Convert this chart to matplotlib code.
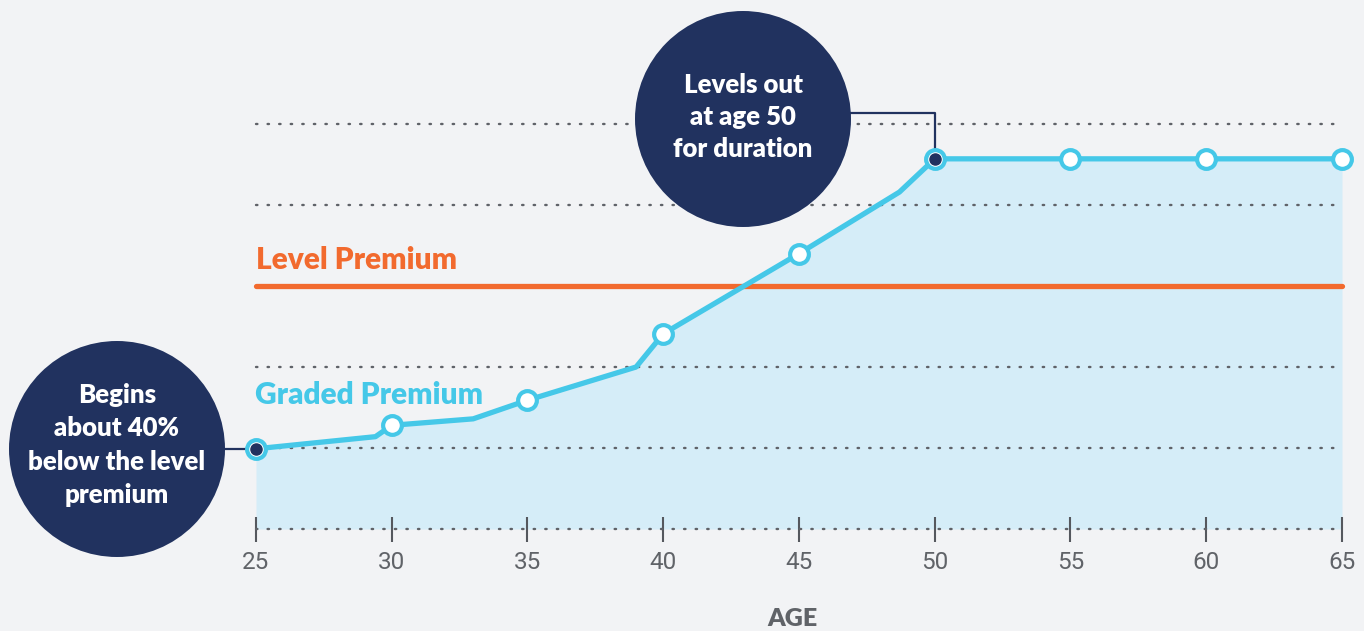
import matplotlib.pyplot as plt
from matplotlib.patches import Ellipse

# graded premium curve (relative units, one unit = one grid step)
ages = [25, 29.4, 30, 33, 35, 39, 40, 45, 48.7, 50, 55, 60, 65]
graded = [0.99, 1.14, 1.28, 1.36, 1.59, 2.0, 2.41, 3.40, 4.16, 4.57, 4.57, 4.57, 4.57]
marker_ages = [25, 30, 35, 40, 45, 50, 55, 60, 65]
level_premium = 3.0
grid_levels = [0, 1, 2, 4, 5]
tick_ages = [25, 30, 35, 40, 45, 50, 55, 60, 65]

bg = '#f2f3f5'
navy = '#21325f'
cyan = '#45c8e8'
orange = '#f26a2e'
fill = '#d5edf8'
gray = '#606368'

fig = plt.figure(figsize=(13.64, 6.31), dpi=100, facecolor=bg)
ax = fig.add_axes([0, 0, 1, 1], facecolor=bg)

# pixel mapping: 27.15 px per year, 81 px per unit
px_x = 27.15
px_y = 81.0
ax.set_xlim(25 - 256 / px_x, 25 + 1108 / px_x)
ax.set_ylim((529 - 631) / px_y, 529 / px_y)

ax.fill_between(ages, graded, 0, color=fill, lw=0, zorder=1)

for g in grid_levels:
    ax.plot([25, 65], [g, g], color='#5f6268', lw=1.7, ls=(0, (0.6, 4.3)),
            dash_capstyle='round', zorder=2)

ax.plot([25, 65], [level_premium, level_premium], color=orange, lw=3.8,
        solid_capstyle='round', zorder=3)

ax.plot(ages, graded, color=cyan, lw=3.8, zorder=4)
marker_vals = [graded[ages.index(a)] for a in marker_ages]
ax.plot(marker_ages, marker_vals, 'o', ms=13.5, mfc='white', mec=cyan,
        mew=3.0, zorder=5)

# annotation circles
r = 108
left_c = (25 + (117 - 256) / px_x, (529 - 449) / px_y)
top_c = (25 + (743 - 256) / px_x, (529 - 119) / px_y)
for c in (left_c, top_c):
    ax.add_patch(Ellipse(c, 2 * r / px_x, 2 * r / px_y, color=navy, lw=0, zorder=6))

ax.plot([left_c[0] + r / px_x, 25], [graded[0], graded[0]], color=navy, lw=1.6, zorder=4.5)
top_y = (529 - 113) / px_y
ax.plot([top_c[0] + r / px_x, 50, 50], [top_y, top_y, graded[ages.index(50)]],
        color=navy, lw=1.6, zorder=4.5)
ax.plot([25, 50], [graded[0], graded[ages.index(50)]], 'o', ms=8, color=navy,
        lw=0, zorder=7)

ax.text(left_c[0], (529 - 445) / px_y, 'Begins\nabout 40%\nbelow the level\npremium',
        ha='center', va='center', color='white', fontsize=18.5, fontweight='heavy',
        family='Lato', linespacing=1.47, zorder=8)
ax.text(top_c[0], (529 - 117) / px_y, 'Levels out\nat age 50\nfor duration',
        ha='center', va='center', color='white', fontsize=18.5, fontweight='heavy',
        family='Lato', linespacing=1.38, zorder=8)

ax.text(25, (529 - 260) / px_y, 'Level Premium', ha='left', va='center',
        color=orange, fontsize=21.5, fontweight='heavy', family='Lato')
ax.text(24.95, (529 - 395) / px_y, 'Graded Premium', ha='left', va='center',
        color=cyan, fontsize=21.5, fontweight='heavy', family='Lato')

# axis ticks
for s in ax.spines.values():
    s.set_visible(False)
ax.spines['bottom'].set_position(('data', 0))
ax.set_xticks(tick_ages)
ax.set_xticklabels([str(t) for t in tick_ages], family='Roboto', fontweight='normal',
                   fontsize=17.5, color=gray)
ax.tick_params(axis='x', direction='inout', length=18, width=1.5, color='#55585e', pad=7)
ax.set_yticks([])

ax.text(25 + (792 - 256) / px_x, (529 - 619) / px_y, 'AGE', ha='center', va='center',
        color=gray, fontsize=18, fontweight='heavy', family='Lato')

fig.savefig('out.png', dpi=100, facecolor=bg)
